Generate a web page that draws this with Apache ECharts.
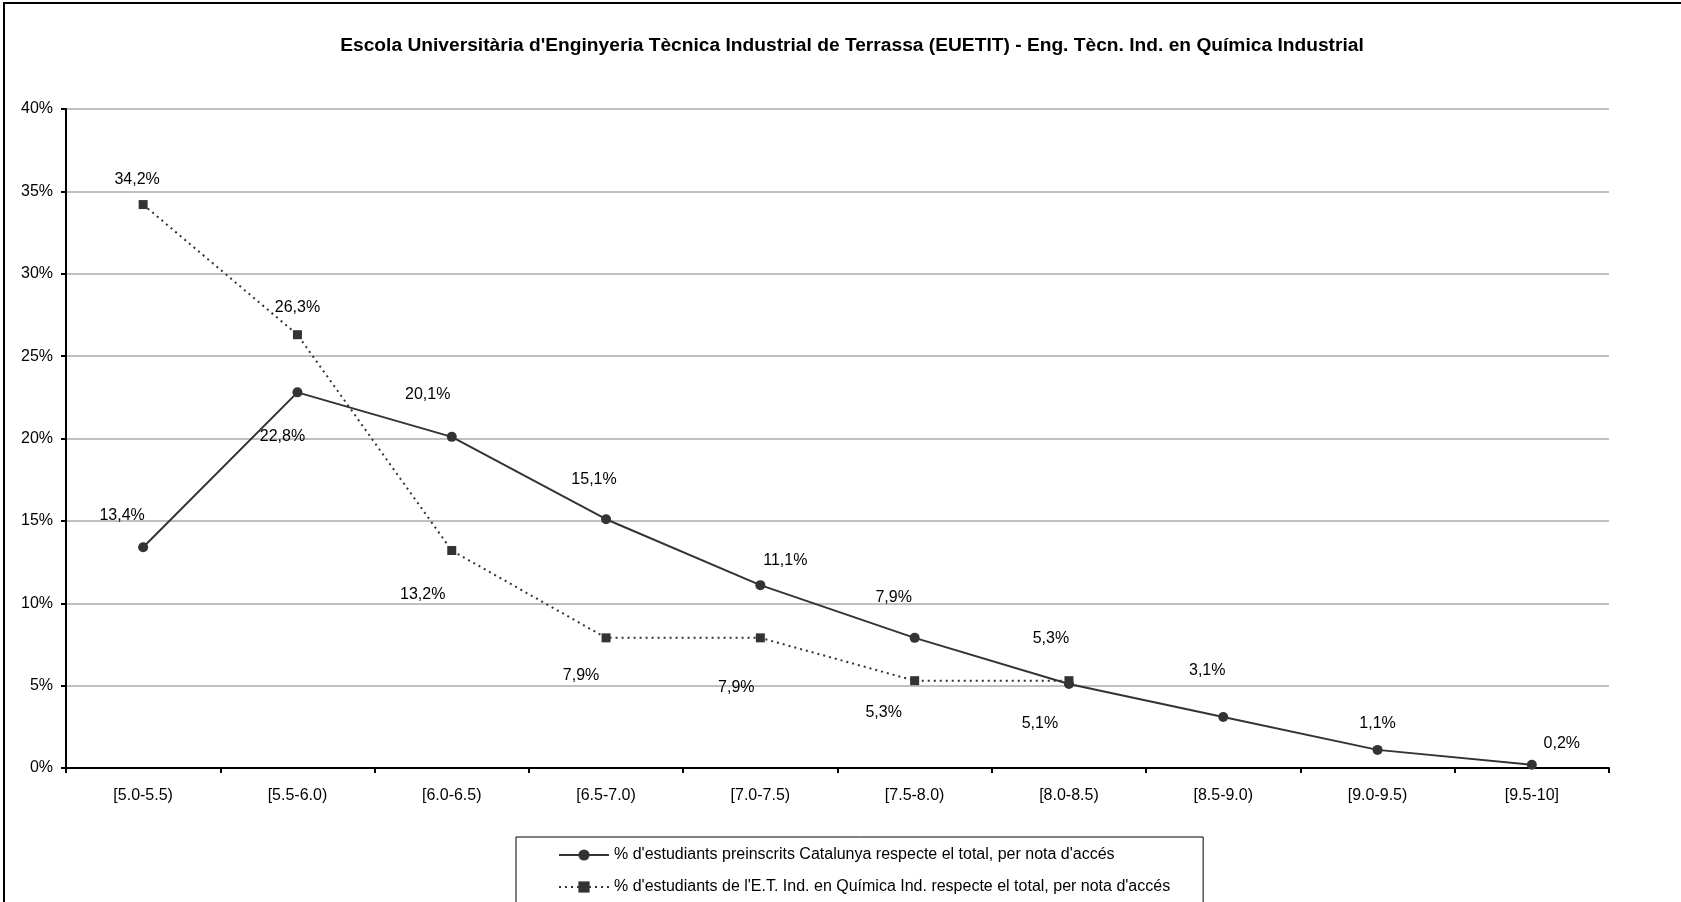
<!DOCTYPE html>
<html>
<head>
<meta charset="utf-8">
<title>EUETIT - Química Industrial</title>
<script src="https://cdn.jsdelivr.net/npm/echarts@6/dist/echarts.min.js"></script>
<style>
  html, body { margin: 0; padding: 0; background: #fff; }
  #chart { width: 1681px; height: 902px; }
</style>
</head>
<body>
<div id="chart"></div>
<script>
// categories (nota d'accés)
const categories = ["[5.0-5.5)", "[5.5-6.0)", "[6.0-6.5)", "[6.5-7.0)", "[7.0-7.5)",
  "[7.5-8.0)", "[8.0-8.5)", "[8.5-9.0)", "[9.0-9.5)", "[9.5-10]"];

// % preinscrits Catalunya
const catalunya = [13.4, 22.8, 20.1, 15.1, 11.1, 7.9, 5.1, 3.1, 1.1, 0.2];
// % E.T. Ind. en Química Ind.
const quimica = [34.2, 26.3, 13.2, 7.9, 7.9, 5.3, 5.3, null, null, null];

const yTicks = [0, 5, 10, 15, 20, 25, 30, 35, 40];

// posició de les etiquetes (com a l'Excel original)
const offsetsCat = [[-21, -32], [-15, 44], [-24, -42], [-12, -40], [25, -25],
  [-21, -40], [-29, 40], [-16, -46], [0, -26], [30, -21]];
const offsetsQui = [[-6, -25], [0, -27], [-29, 44], [-25, 38], [-24, 50],
  [-31, 32], [-18, -42]];

const FONT = "'Liberation Sans', Arial, sans-serif";
const fmt = v => v.toFixed(1).replace(".", ",") + "%";

function withLabels(values, offsets) {
  return values.map((v, i) => v == null ? null : {
    value: v,
    label: { offset: offsets[i] }
  });
}

const chart = echarts.init(document.getElementById("chart"));

chart.setOption({
  animation: false,
  backgroundColor: "#fff",
  textStyle: { fontFamily: FONT },
  title: {
    text: "Escola Universitària d'Enginyeria Tècnica Industrial de Terrassa (EUETIT) - Eng. Tècn. Ind. en Química Industrial",
    left: 847,
    top: 31,
    textAlign: "center",
    textStyle: { fontFamily: FONT, fontSize: 19.2, fontWeight: "bold", color: "#000" }
  },
  graphic: [{
    type: "rect",
    shape: { x: 4, y: 3, width: 1700, height: 940 },
    style: { fill: null, stroke: "#000", lineWidth: 2 },
    silent: true
  }],
  grid: { left: 66, right: 72, top: 109, bottom: 134 },
  legend: {
    orient: "vertical",
    left: 516,
    top: 837,
    height: 120,
    padding: [10, 33, 30, 42],
    itemWidth: 50,
    itemHeight: 14,
    itemGap: 16,
    borderColor: "#000",
    borderWidth: 1,
    textStyle: { fontFamily: FONT, fontSize: 16, color: "#000" }
  },
  xAxis: {
    type: "category",
    data: categories,
    boundaryGap: true,
    axisLine: { lineStyle: { color: "#000", width: 2 } },
    axisTick: { show: true, length: 5, lineStyle: { color: "#000", width: 2 } },
    axisLabel: { fontFamily: FONT, fontSize: 16, color: "#000", margin: 20 }
  },
  yAxis: {
    type: "value",
    min: yTicks[0],
    max: yTicks[yTicks.length - 1],
    interval: 5,
    axisLine: { show: true, lineStyle: { color: "#000", width: 2 } },
    axisTick: { show: true, length: 5, lineStyle: { color: "#000", width: 2 } },
    axisLabel: { fontFamily: FONT, fontSize: 16, color: "#000", margin: 13, formatter: "{value}%" },
    splitLine: { lineStyle: { color: "#c0c0c0", width: 2 } }
  },
  series: [
    {
      name: "% d'estudiants preinscrits Catalunya respecte el total, per nota d'accés",
      type: "line",
      data: withLabels(catalunya, offsetsCat),
      symbol: "circle",
      symbolSize: 10,
      itemStyle: { color: "#333" },
      lineStyle: { color: "#333", width: 2 },
      label: {
        show: true,
        position: "inside",
        fontFamily: FONT, fontSize: 16, color: "#000",
        formatter: p => fmt(p.value)
      }
    },
    {
      name: "% d'estudiants de l'E.T. Ind. en Química Ind. respecte el total, per nota d'accés",
      type: "line",
      data: withLabels(quimica, offsetsQui),
      symbol: "rect",
      symbolSize: 9,
      itemStyle: { color: "#333" },
      lineStyle: { color: "#333", width: 2, type: [2, 4] },
      label: {
        show: true,
        position: "inside",
        fontFamily: FONT, fontSize: 16, color: "#000",
        formatter: p => fmt(p.value)
      }
    }
  ]
});
</script>
</body>
</html>
